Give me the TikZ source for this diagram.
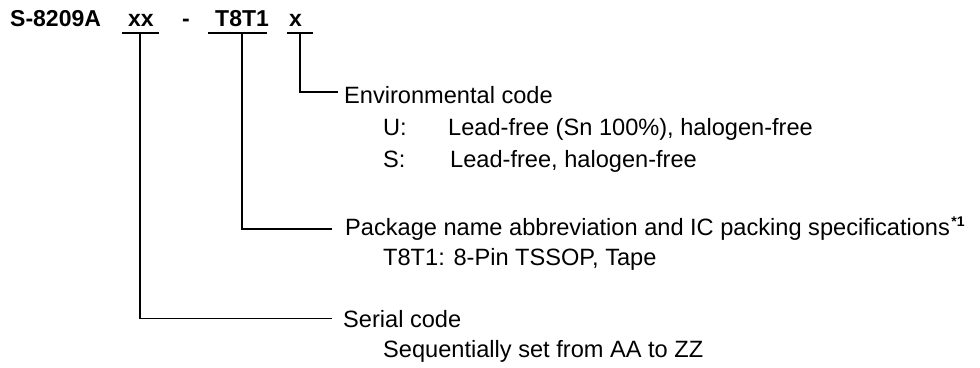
\documentclass[tikz,border=0pt]{standalone}
\usepackage{fontspec}
\setmainfont{Liberation Sans}
\begin{document}
\begin{tikzpicture}[x=1pt,y=-1pt,
  lbl/.style={anchor=base west, inner sep=0pt, font=\fontsize{23.6}{28}\selectfont},
  ttl/.style={anchor=base west, inner sep=0pt, font=\fontsize{23}{28}\selectfont\bfseries},
  sup/.style={anchor=base west, inner sep=0pt, font=\fontsize{14}{16}\selectfont\bfseries},
  ln/.style={line width=1.8pt}]
\useasboundingbox (0,0) rectangle (980,367);
% title
\node[ttl] (part) at (10,26) {S-8209A};
\node[ttl] (ser) at (128,26) {xx};
\node[ttl] (dash) at (182,26) {-};
\node[ttl] (pkg) at (215,26) {T8T1};
\node[ttl] (envc) at (289,26) {x};
% underlines and drop points
\coordinate (serL) at (122,33); \coordinate (serR) at (159,33); \coordinate (serB) at (140,33);
\coordinate (pkgL) at (208,33); \coordinate (pkgR) at (267,33); \coordinate (pkgB) at (242,33);
\coordinate (envL) at (287,33); \coordinate (envR) at (313,33); \coordinate (envB) at (300,33);
\draw[ln] (serL) -- (serR);
\draw[ln] (pkgL) -- (pkgR);
\draw[ln] (envL) -- (envR);
% labels
\node[lbl] (envtxt) at (344,103) {Environmental code};
\node[lbl] (u) at (383,135) {U:};
\node[lbl] (udesc) at (448,135) {Lead-free (Sn 100\%), halogen-free};
\node[lbl] (s) at (383,167) {S:};
\node[lbl] (sdesc) at (450,167) {Lead-free, halogen-free};
\node[lbl] (pkgtxt) at (345,235) {Package name abbreviation and IC packing specifications};
\node[sup] (note) at ([xshift=1pt,yshift=9pt]pkgtxt.base east) {*1};
\node[lbl] (tape) at (383,265) {T8T1: 8-Pin TSSOP, Tape};
\node[lbl] (serial) at (343,327) {Serial code};
\node[lbl] (seq) at (383,357) {Sequentially set from AA to ZZ};
% connectors
\draw[ln] (envB) |- ([xshift=-6pt,yshift=2.5pt]envtxt.west);
\draw[ln] (pkgB) |- ([xshift=-13pt]pkgtxt.west);
\draw[ln] (serB) |- ([xshift=-11pt]serial.west);
\end{tikzpicture}
\end{document}
